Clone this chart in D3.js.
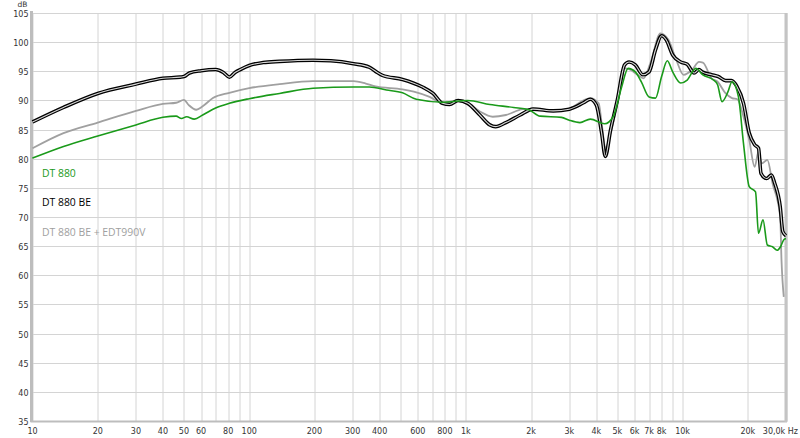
<!DOCTYPE html>
<html>
<head>
<meta charset="utf-8">
<script src="https://cdn.jsdelivr.net/npm/d3@7"></script>
<style>
  body { margin: 0; background: #fff; }
  #chart { width: 800px; height: 438px; }
</style>
</head>
<body>
<div id="chart"></div>
<script>
// frequency response readings [Hz, dB]
var dt880 = [[10,80.1],[13.9,82.1],[20,83.9],[30,85.8],[40,87.1],[46,87.3],[48.7,86.9],[51.4,87.2],[55.8,86.8],[61,87.5],[70,88.7],[81,89.5],[100,90.3],[138,91.2],[197,92.1],[303,92.3],[358,92.3],[430,91.8],[510,91.3],[590,90.2],[780,89.7],[1020,90.0],[1290,89.3],[1660,88.8],[1950,88.4],[2200,87.3],[2760,87.1],[3000,86.6],[3360,86.2],[3750,86.8],[4370,86.0],[4780,87.2],[5240,92.4],[5600,95.5],[6050,94.9],[6450,93.2],[7000,90.6],[7500,90.4],[8000,94.1],[8500,96.8],[9000,94.9],[9800,93.0],[10500,93.5],[11500,95.5],[12400,94.4],[13900,93.5],[14500,92.7],[15200,89.8],[16200,91.5],[16900,93.2],[18100,90.6],[19100,82.6],[20300,75.2],[21700,74.3],[22400,67.2],[23500,69.5],[24600,65.2],[26000,64.9],[27300,64.3],[28300,64.9],[29300,66.1],[30000,66.3]];

var dt880be = [[10,86.3],[13.9,88.8],[20,91.2],[30,92.8],[40,93.8],[48,94.0],[50,94.1],[53,94.7],[60,95.1],[70,95.3],[76,94.8],[81,94.0],[86,94.8],[91,95.3],[100,96.0],[116,96.5],[138,96.7],[197,96.9],[238,96.8],[303,96.3],[358,95.7],[390,94.8],[412,94.3],[510,93.6],[630,92.3],[705,91.2],[780,89.5],[840,89.3],[920,90.0],[1020,89.5],[1160,87.5],[1290,85.8],[1370,85.5],[1530,86.2],[1780,87.5],[2040,88.5],[2530,88.2],[3000,88.5],[3490,89.6],[3750,90.2],[4000,89.2],[4230,84.4],[4400,80.4],[4650,84.9],[5000,90.1],[5400,96.1],[5660,96.6],[6050,96.1],[6560,94.4],[7000,94.9],[7500,98.7],[8000,101.1],[8400,100.4],[9000,97.8],[9800,96.6],[10500,96.2],[11300,94.7],[11900,95.3],[12300,94.9],[13600,94.4],[14600,94.1],[15800,93.4],[16800,93.4],[17800,92.4],[19100,89.5],[20300,84.4],[21500,82.4],[22400,81.8],[23000,77.5],[24400,76.6],[25700,77.2],[26600,75.8],[28200,71.8],[29000,67.5],[30000,66.8]];

var dt880beEdt = [[10,81.8],[13.9,84.4],[20,86.2],[30,88.2],[40,89.4],[46,89.6],[50,90.1],[52.6,89.2],[57,88.4],[61,89.0],[68,90.4],[81,91.3],[100,92.1],[138,92.8],[197,93.3],[303,93.3],[345,92.9],[383,92.4],[510,91.9],[575,91.5],[680,90.6],[780,89.6],[920,90.0],[1020,89.6],[1160,88.1],[1330,87.2],[1530,87.5],[1830,88.5],[2100,88.6],[2530,88.2],[3000,88.6],[3490,90.0],[3750,90.4],[4100,89.5],[4250,85.5],[4400,81.8],[4650,84.4],[5150,91.8],[5400,95.5],[5700,95.3],[6200,94.4],[6600,93.8],[7100,96.4],[7900,101.5],[8600,100.4],[9300,97.2],[10100,94.4],[11100,95.3],[11900,96.6],[12400,96.5],[13600,93.8],[14500,93.2],[15800,91.2],[16900,90.4],[17900,90.2],[19100,87.2],[20300,83.2],[21500,78.6],[22400,81.2],[23200,79.2],[24600,79.8],[26000,75.8],[28200,70.1],[28600,62.6],[29300,56.3]];

var legendNames = ["DT 880", "DT 880 BE", "DT 880 BE + EDT990V"];
var legendColors = ["#1a9a1a", "#000000", "#a0a0a0"];

var yTicks = [35,40,45,50,55,60,65,70,75,80,85,90,95,100,105];
var xGrid = [10,20,30,40,50,60,70,80,90,100,200,300,400,500,600,700,800,900,1000,2000,3000,4000,5000,6000,7000,8000,9000,10000,20000,30000];
var xLabels = [10,20,30,40,50,60,80,100,200,300,400,600,800,1000,2000,3000,4000,5000,6000,7000,8000,10000,20000];

var margin = {top: 13, right: 14, bottom: 17, left: 32.5},
    width = 800 - margin.left - margin.right,
    height = 438 - margin.top - margin.bottom;

var tickFont = "8px 'DejaVu Sans', Verdana, sans-serif";

var svg = d3.select("#chart").append("svg")
    .attr("width", 800)
    .attr("height", 438)
  .append("g")
    .attr("transform", "translate(" + margin.left + "," + margin.top + ")");

var x = d3.scaleLog().domain([10, 30000]).range([0, width]);
var y = d3.scaleLinear().domain([35, 105]).range([height, 0]);

// grid
svg.selectAll("line.hgrid")
    .data(yTicks)
  .enter().append("line")
    .attr("class", "hgrid")
    .attr("x1", 0).attr("x2", width)
    .attr("y1", function (d) { return Math.round(y(d)) + 0.5; })
    .attr("y2", function (d) { return Math.round(y(d)) + 0.5; })
    .style("stroke", "#d4d4d4");

svg.selectAll("line.vgrid")
    .data(xGrid)
  .enter().append("line")
    .attr("class", "vgrid")
    .attr("x1", function (d) { return Math.round(x(d)) + 0.5; })
    .attr("x2", function (d) { return Math.round(x(d)) + 0.5; })
    .attr("y1", 0).attr("y2", height)
    .style("stroke", "#d4d4d4");

// frame
svg.append("line").attr("x1", -1).attr("x2", -1).attr("y1", -2).attr("y2", height + 1)
    .style("stroke", "#bdbdbd").style("stroke-width", 3);
svg.append("line").attr("x1", -2).attr("x2", width + 1).attr("y1", height + 0.5).attr("y2", height + 0.5)
    .style("stroke", "#bdbdbd").style("stroke-width", 2);
svg.append("line").attr("x1", width).attr("x2", width).attr("y1", 0).attr("y2", height + 1)
    .style("stroke", "#c4c4c4").style("stroke-width", 3);

// tick labels
svg.selectAll("text.ylab")
    .data(yTicks)
  .enter().append("text")
    .attr("class", "ylab")
    .attr("x", -4)
    .attr("y", function (d) { return y(d) + 4; })
    .attr("text-anchor", "end")
    .style("font", tickFont)
    .style("fill", "#333")
    .text(function (d) { return d; });

svg.append("text")
    .attr("x", -5).attr("y", -6)
    .attr("text-anchor", "end")
    .style("font", "7.5px 'DejaVu Sans', Verdana, sans-serif")
    .style("fill", "#333")
    .text("dB");

svg.selectAll("text.xlab")
    .data(xLabels)
  .enter().append("text")
    .attr("class", "xlab")
    .attr("x", function (d) { return x(d); })
    .attr("y", height + 13)
    .attr("text-anchor", "middle")
    .style("font", tickFont)
    .style("fill", "#333")
    .text(function (d) { return d >= 1000 ? (d / 1000) + "k" : d; });

svg.append("text")
    .attr("x", x(30000) + 12).attr("y", height + 13)
    .attr("text-anchor", "end")
    .style("font", tickFont)
    .style("fill", "#333")
    .text("30,0k Hz");

var line = d3.line()
    .x(function (d) { return x(d[0]); })
    .y(function (d) { return y(d[1]); })
    .curve(d3.curveMonotoneX);

svg.append("path").datum(dt880beEdt).attr("d", line)
    .style("fill", "none").style("stroke", legendColors[2]).style("stroke-width", 1.8);

// black curve drawn as an outlined line
svg.append("path").datum(dt880be).attr("d", line)
    .style("fill", "none").style("stroke", "#000").style("stroke-width", 3.6);
svg.append("path").datum(dt880be).attr("d", line)
    .style("fill", "none").style("stroke", "#d8d8d8").style("stroke-width", 1.1);

svg.append("path").datum(dt880).attr("d", line)
    .style("fill", "none").style("stroke", legendColors[0]).style("stroke-width", 1.6);

// legend
svg.selectAll("text.legend")
    .data(legendNames)
  .enter().append("text")
    .attr("class", "legend")
    .attr("x", 9.5)
    .attr("y", function (d, i) { return 164 + i * 29.4; })
    .style("font", "10.4px 'Open Sans', sans-serif")
    .style("fill", function (d, i) { return legendColors[i]; })
    .text(function (d) { return d; });
</script>
</body>
</html>
